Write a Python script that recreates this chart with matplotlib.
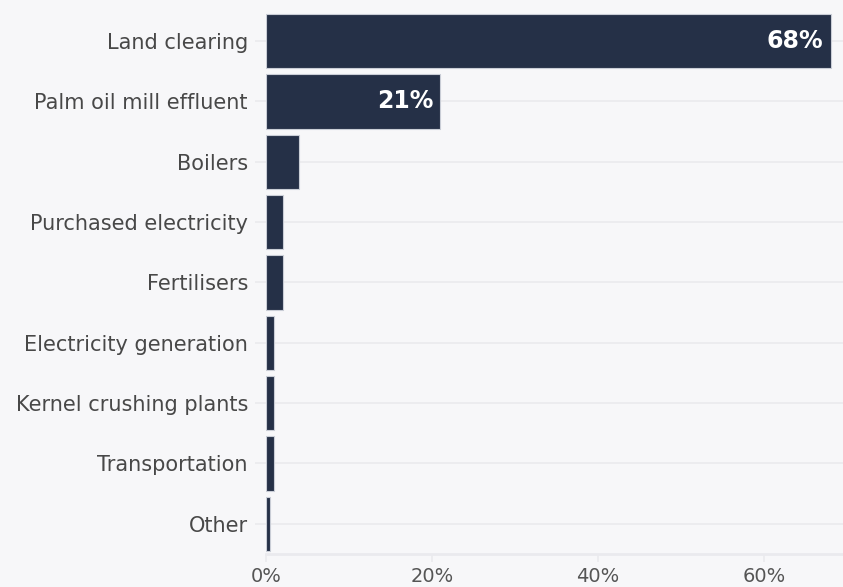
import matplotlib
matplotlib.use("Agg")
from matplotlib import pyplot as plt
from matplotlib.transforms import offset_copy

categories = [
    "Land clearing",
    "Palm oil mill effluent",
    "Boilers",
    "Purchased electricity",
    "Fertilisers",
    "Electricity generation",
    "Kernel crushing plants",
    "Transportation",
    "Other",
]
shares = [68, 21, 4, 2, 2, 1, 1, 1, 0.5]
labelled = ["68%", "21%", "", "", "", "", "", "", ""]
x_ticks = [0, 20, 40, 60]
x_tick_labels = ["0%", "20%", "40%", "60%"]

BG = "#f7f7f9"
BAR = "#253047"
GRID = "#eaeaee"

plt.rcParams['font.family'] = ['DejaVu Sans']

fig = plt.figure(figsize=(8.43, 5.87), dpi=100, facecolor=BG)
ax = fig.add_axes([266 / 843, 33 / 587, 1 - 266 / 843, (554 - 11) / 587])
ax.set_facecolor(BG)

ypos = list(range(len(categories)))
ax.barh(ypos, shares, height=0.9, color=BAR, edgecolor="#c9cdd6",
        linewidth=0.8, zorder=3)

for y, v, txt in zip(ypos, shares, labelled):
    if txt:
        tr = offset_copy(ax.transData, fig=fig, x=-7, y=0, units='dots')
        ax.text(v, y, txt, transform=tr, ha='right', va='center',
                color='white', fontsize=17, fontweight='bold', zorder=4)

ax.set_ylim(len(categories) - 0.5, -0.5)
ax.set_xlim(0, 69.5)
ax.set_yticks(ypos)
ax.set_yticklabels(categories, fontsize=15, color="#484848")
ax.set_xticks(x_ticks)
ax.set_xticklabels(x_tick_labels, fontsize=14, color="#555555")

ax.grid(axis='y', color=GRID, linewidth=1.2, zorder=0)
ax.grid(axis='x', visible=False)
for side in ['top', 'right', 'left']:
    ax.spines[side].set_visible(False)
ax.spines['bottom'].set_color(GRID)
ax.spines['bottom'].set_linewidth(2)
ax.tick_params(axis='y', length=8, width=1.2, color=GRID, pad=5)
ax.tick_params(axis='x', length=6, width=1.2, color=GRID, pad=3)

fig.savefig("out.png", dpi=100, facecolor=BG)
